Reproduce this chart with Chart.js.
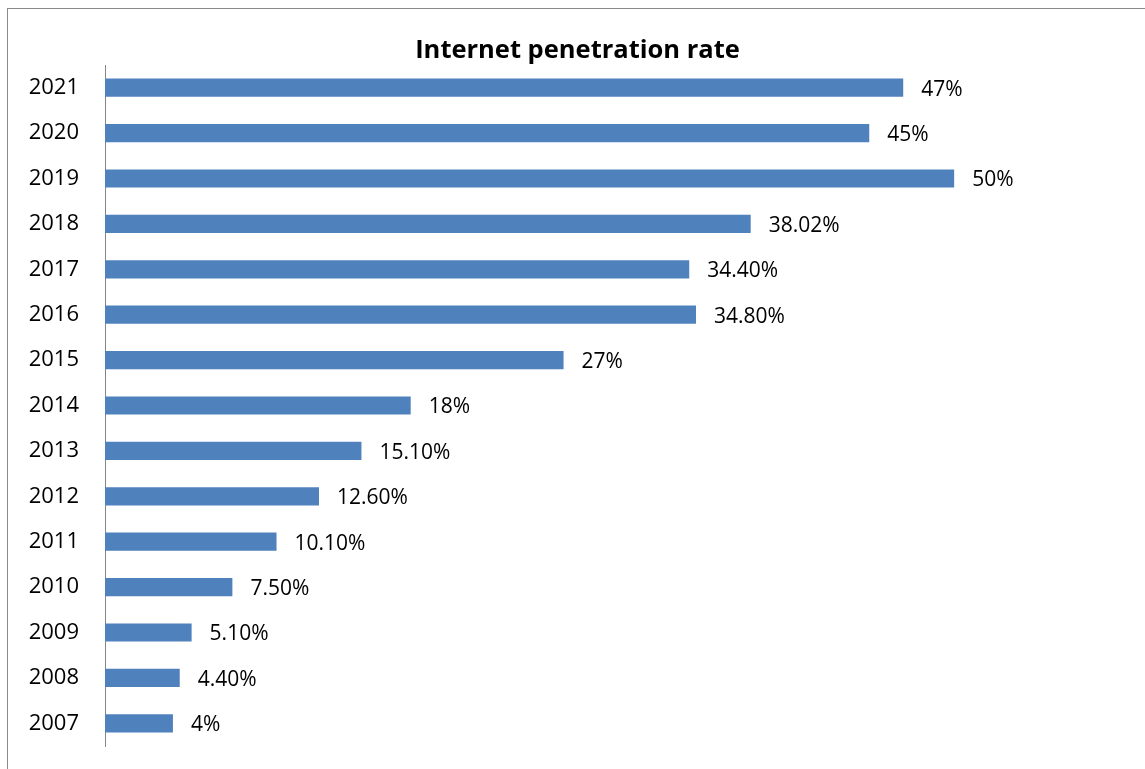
<!DOCTYPE html>
<html>
<head>
<meta charset="utf-8">
<script src="https://cdn.jsdelivr.net/npm/chart.js@4.4.1/dist/chart.umd.min.js"></script>
<style>
  html, body { margin: 0; padding: 0; background: #fff; overflow: hidden; width: 1145px; height: 769px; }
  #frame { position: absolute; left: 7px; top: 8px; width: 1300px; height: 900px; border: 1px solid #8a8a8a; box-sizing: border-box; }
  #c { position: absolute; left: 0; top: 0; }
</style>
</head>
<body>
<div id="frame"></div>
<canvas id="c" width="1145" height="769"></canvas>
<script>
const years = ["2021","2020","2019","2018","2017","2016","2015","2014","2013","2012","2011","2010","2009","2008","2007"];
const rates = [47, 45, 50, 38.02, 34.4, 34.8, 27, 18, 15.1, 12.6, 10.1, 7.5, 5.1, 4.4, 4];
const rateLabels = ["47%","45%","50%","38.02%","34.40%","34.80%","27%","18%","15.10%","12.60%","10.10%","7.50%","5.10%","4.40%","4%"];
const titleText = "Internet penetration rate";

const FONT = "'Open Sans', 'Noto Sans', sans-serif";

const valueLabelPlugin = {
  id: 'valueLabels',
  afterDatasetsDraw(chart) {
    const ctx = chart.ctx;
    const meta = chart.getDatasetMeta(0);
    ctx.save();
    ctx.font = "21px " + FONT;
    ctx.fillStyle = "#000";
    ctx.textAlign = "left";
    ctx.textBaseline = "middle";
    meta.data.forEach((bar, i) => {
      ctx.fillText(rateLabels[i], bar.x + 18, bar.y + 2);
    });
    ctx.restore();
  }
};

const titlePlugin = {
  id: 'chartTitle',
  afterDraw(chart) {
    const ctx = chart.ctx;
    ctx.save();
    ctx.font = "bold 25.5px " + FONT;
    ctx.fillStyle = "#000";
    ctx.textAlign = "center";
    ctx.textBaseline = "alphabetic";
    ctx.fillText(titleText, 577.5, 58);
    ctx.restore();
  }
};

new Chart(document.getElementById('c'), {
  type: 'bar',
  data: {
    labels: years,
    datasets: [{
      data: rates,
      backgroundColor: '#4F81BD',
      borderWidth: 0,
      categoryPercentage: 1,
      barPercentage: 0.4
    }]
  },
  options: {
    indexAxis: 'y',
    responsive: false,
    animation: false,
    layout: { padding: { top: 65, left: 0, right: 21, bottom: 23 } },
    plugins: {
      legend: { display: false },
      tooltip: { enabled: false },
      title: { display: false }
    },
    scales: {
      x: { display: false, min: 0, max: 60 },
      y: {
        grid: { display: false },
        border: { display: true, color: '#868686', width: 1 },
        ticks: { color: '#000', font: { family: FONT, size: 22 }, padding: 18 },
        afterFit(scale) {
          scale.width = 105;
          scale.paddingTop = 0;
          scale.paddingBottom = 0;
        }
      }
    }
  },
  plugins: [valueLabelPlugin, titlePlugin]
});
</script>
</body>
</html>
